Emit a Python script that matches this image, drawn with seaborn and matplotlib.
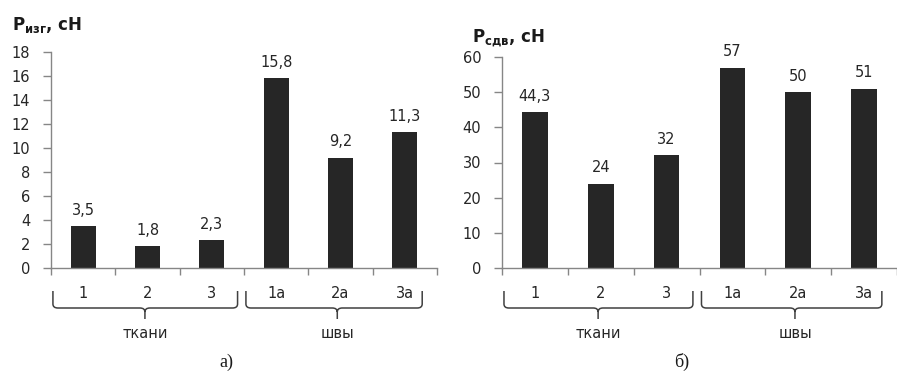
import matplotlib
matplotlib.use("Agg")
import matplotlib.pyplot as plt
import seaborn as sns
import pandas as pd
from matplotlib.path import Path
from matplotlib.patches import PathPatch
from matplotlib.transforms import blended_transform_factory

# ---- data ----
categories = ["1", "2", "3", "1а", "2а", "3а"]
groups = ["ткани", "ткани", "ткани", "швы", "швы", "швы"]
bend_values = [3.5, 1.8, 2.3, 15.8, 9.2, 11.3]
bend_labels = ["3,5", "1,8", "2,3", "15,8", "9,2", "11,3"]
shift_values = [44.3, 24, 32, 57, 50, 51]
shift_labels = ["44,3", "24", "32", "57", "50", "51"]
group_names = ["ткани", "швы"]

sns.set_theme(style="white")
plt.rcParams['font.family'] = ['DejaVu Sans']

W, H = 897, 371
fig = plt.figure(figsize=(W / 100, H / 100), dpi=100)

BAR = "#262626"
AX = "#868686"
TXT = "#262626"


def px_y(py):
    return 1 - py / H


def draw_brace(ax, x0, x1, xc, ytop, ybot, ystem, dx):
    tr = blended_transform_factory(ax.transData, fig.transFigure)
    yt, yb, ys = px_y(ytop), px_y(ybot), px_y(ystem)
    yc = px_y(ybot - 4)
    yk = px_y(ybot + 4)
    verts = [(x0, yt), (x0, yc), (x0, yb), (x0 + dx, yb), (xc - dx, yb), (xc, yb), (xc, yk), (xc, ys),
             (xc, yk), (xc, yb), (xc + dx, yb), (x1 - dx, yb), (x1, yb), (x1, yc), (x1, yt)]
    codes = [Path.MOVETO, Path.LINETO, Path.CURVE3, Path.CURVE3, Path.LINETO, Path.CURVE3, Path.CURVE3, Path.LINETO,
             Path.MOVETO, Path.CURVE3, Path.CURVE3, Path.LINETO, Path.CURVE3, Path.CURVE3, Path.LINETO]
    p = PathPatch(Path(verts, codes), transform=tr, fill=False, edgecolor="#404040", lw=1.1, clip_on=False)
    fig.add_artist(p)


def make_panel(rect, values, labels, ymax, ystep, xright, title, title_xy, letter, letter_x, cat_px):
    ax = fig.add_axes(rect)
    df = pd.DataFrame({"cat": categories, "val": values})
    sns.barplot(data=df, x="cat", y="val", color=BAR, saturation=1, width=0.39, ax=ax,
                edgecolor=BAR, linewidth=0)
    ax.set_xlim(-0.5, xright)
    ax.set_ylim(0, ymax)
    ax.set_yticks(range(0, ymax + 1, ystep))
    ax.set_xlabel("")
    ax.set_ylabel("")
    for s in ["top", "right"]:
        ax.spines[s].set_visible(False)
    for s in ["left", "bottom"]:
        ax.spines[s].set_color(AX)
        ax.spines[s].set_linewidth(1.0)
    ax.tick_params(axis="y", direction="out", length=6, width=1, color=AX, pad=9, labelsize=10.5,
                   labelcolor=TXT, left=True)
    ax.tick_params(axis="x", which="major", length=0, pad=13, labelsize=10.5, labelcolor=TXT)
    ax.set_xticks([i - 0.5 for i in range(0, 7)], minor=True)
    ax.tick_params(axis="x", which="minor", direction="out", length=5, width=1, color=AX, bottom=True)
    ax.bar_label(ax.containers[0], labels=labels, padding=6, fontsize=10.5, color=TXT)

    # title
    fig.text(title_xy[0] / W, px_y(title_xy[1]), title, fontsize=12, fontweight="bold",
             color="#1a1a1a", ha="left", va="center")

    # braces and group labels
    dx = 5 / cat_px
    draw_brace(ax, -0.47, 2.4, 0.96, 291, 308, 319, dx)
    draw_brace(ax, 2.53, 5.27, 3.95, 291, 308, 319, dx)
    tr = blended_transform_factory(ax.transData, fig.transFigure)
    ax.text(0.96, px_y(333), group_names[0], transform=tr, ha="center", va="center",
            fontsize=10.5, color=TXT, clip_on=False)
    ax.text(3.95, px_y(333), group_names[1], transform=tr, ha="center", va="center",
            fontsize=10.5, color=TXT, clip_on=False)
    fig.text(letter_x / W, px_y(362), letter, ha="center", va="center", fontsize=13,
             family="Liberation Serif", color="#1a1a1a")
    return ax


make_panel([51 / W, 1 - 268 / H, 386 / W, 216 / H], bend_values, bend_labels, 18, 2, 5.5,
           r"P$_{\mathbf{изг}}$, сН", (12, 25), "а)", 226, 64.3)
make_panel([502 / W, 1 - 268 / H, 395 / W, 211 / H], shift_values, shift_labels, 60, 10, 5.29,
           r"P$_{\mathbf{сдв}}$, сН", (472, 38), "б)", 682, 68.2)

fig.savefig("out.png", dpi=100)
